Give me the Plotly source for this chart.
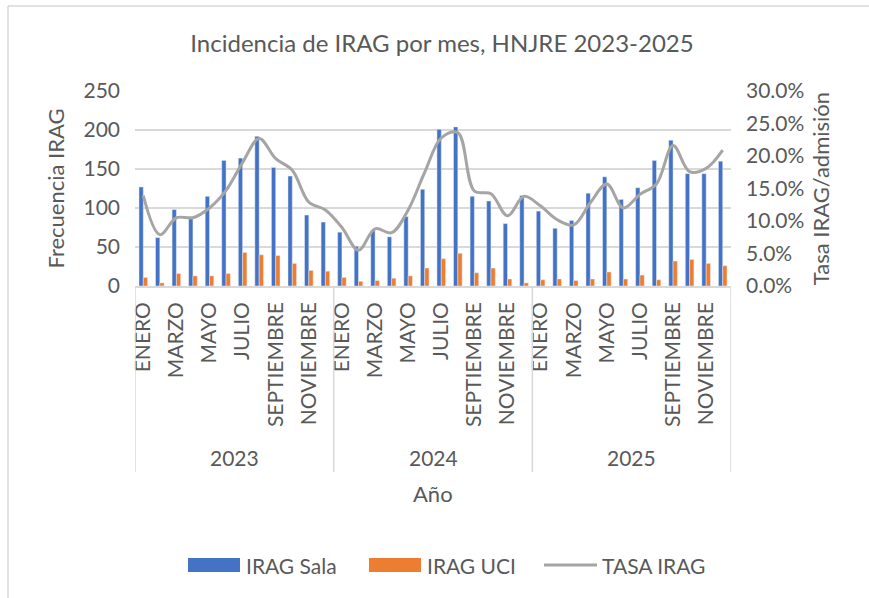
import plotly.graph_objects as go

# =============================================================================
# DATA
# =============================================================================

years = ["2023", "2024", "2025"]
months = ["ENERO", "FEBRERO", "MARZO", "ABRIL", "MAYO", "JUNIO",
          "JULIO", "AGOSTO", "SEPTIEMBRE", "OCTUBRE", "NOVIEMBRE", "DICIEMBRE"]

irag_sala = [127, 62, 98, 89, 115, 161, 164, 192, 152, 141, 91, 82,
             69, 51, 71, 63, 89, 124, 201, 204, 115, 109, 80, 116,
             96, 74, 84, 119, 140, 111, 126, 161, 187, 144, 144, 160]
irag_uci = [11, 4, 16, 13, 13, 16, 43, 40, 39, 29, 20, 19,
            11, 6, 7, 10, 13, 23, 35, 42, 17, 23, 9, 4,
            8, 9, 7, 9, 18, 9, 14, 8, 32, 34, 29, 26]
tasa_irag = [13.9, 7.9, 10.5, 10.5, 12.0, 14.7, 19.0, 22.7, 19.6, 17.8, 12.9, 11.7,
             9.0, 5.5, 8.8, 8.2, 11.7, 17.5, 22.8, 23.6, 14.6, 14.2, 10.8, 13.8,
             12.3, 10.2, 9.4, 12.8, 15.7, 12.0, 14.1, 15.7, 21.6, 17.6, 18.1, 20.9]

# =============================================================================
# FIGURE
# =============================================================================

W, H = 869, 598
L, R, T, B = 135, 731, 91, 286          # plot area in pixels
FONT = "Lato"
TXT = "#595959"
GRID = "#d9d9d9"
BLUE, ORANGE, GREY = "#4472c4", "#ed7d31", "#a5a5a5"


def px_x(x):
    return (x - L) / (R - L)


def px_y(y):
    return (B - y) / (B - T)


idx = list(range(len(irag_sala)))
n_m = len(months)

fig = go.Figure()
fig.add_trace(go.Bar(x=idx, y=irag_sala, name="IRAG Sala", marker_color=BLUE))
fig.add_trace(go.Bar(x=idx, y=irag_uci, name="IRAG UCI", marker_color=ORANGE))
fig.add_trace(go.Scatter(
    x=idx, y=tasa_irag, name="TASA IRAG", yaxis="y2", mode="lines",
    line=dict(color=GREY, width=3, shape="spline", smoothing=1.0)
))

# year groups and dividers below the month labels
shapes = []
annotations = []
for k, yr in enumerate(years):
    annotations.append(dict(
        x=k * n_m + (n_m - 1) / 2, y=px_y(457), xref="x", yref="paper",
        text=yr, showarrow=False, yanchor="middle",
        font=dict(family=FONT, size=21, color=TXT)
    ))
for k in range(len(years) + 1):
    shapes.append(dict(
        type="line", xref="x", yref="paper", x0=k * n_m - 0.5, x1=k * n_m - 0.5,
        y0=0, y1=px_y(472), line=dict(color=GRID, width=1.5)
    ))
annotations.append(dict(
    x=px_x(433), y=px_y(494), xref="paper", yref="paper", text="Año", showarrow=False,
    yanchor="middle", font=dict(family=FONT, size=22, color=TXT)
))

# legend drawn by hand, Excel style wide swatches
leg_y = 565
for name, color, x0, kind in [("IRAG Sala", BLUE, 188, "rect"),
                              ("IRAG UCI", ORANGE, 369, "rect"),
                              ("TASA IRAG", GREY, 544, "line")]:
    if kind == "rect":
        shapes.append(dict(type="rect", xref="paper", yref="paper",
                           x0=px_x(x0), x1=px_x(x0 + 52), y0=px_y(leg_y - 7), y1=px_y(leg_y + 7),
                           fillcolor=color, line=dict(width=0)))
    else:
        shapes.append(dict(type="line", xref="paper", yref="paper",
                           x0=px_x(x0), x1=px_x(x0 + 53), y0=px_y(leg_y), y1=px_y(leg_y),
                           line=dict(color=color, width=3)))
    annotations.append(dict(x=px_x(x0 + 56), y=px_y(leg_y), xref="paper", yref="paper",
                            text=name, showarrow=False, xanchor="left", yanchor="middle",
                            font=dict(family=FONT, size=21, color=TXT)))

# chart frame (left and top edges visible)
shapes.append(dict(type="line", xref="paper", yref="paper",
                   x0=px_x(8), x1=px_x(8), y0=px_y(6), y1=px_y(H + 5),
                   line=dict(color=GRID, width=1.5)))
shapes.append(dict(type="line", xref="paper", yref="paper",
                   x0=px_x(8), x1=px_x(W + 5), y0=px_y(6), y1=px_y(6),
                   line=dict(color=GRID, width=1.5)))

fig.update_layout(
    width=W, height=H,
    margin=dict(l=L, r=W - R, t=T, b=H - B),
    paper_bgcolor="white", plot_bgcolor="white",
    font=dict(family=FONT, color=TXT, size=20),
    showlegend=False,
    title=dict(text="Incidencia de IRAG por mes, HNJRE 2023-2025",
               x=px_x(442), xref="paper", xanchor="center", y=1 - 44 / H, yanchor="middle",
               font=dict(family=FONT, size=24, color=TXT)),
    barmode="group", bargap=0.48, bargroupgap=0,
    xaxis=dict(range=[-0.5, len(idx) - 0.5],
               tickvals=idx[::2], ticktext=[months[i % n_m] for i in idx[::2]],
               tickangle=-90, showgrid=False, zeroline=False,
               showline=True, linecolor=GRID, linewidth=1.5,
               tickfont=dict(family=FONT, size=21, color=TXT), ticklabelstandoff=6),
    yaxis=dict(range=[0, 250], dtick=50, showgrid=True, gridcolor=GRID, gridwidth=1.5,
               zeroline=False, tickfont=dict(family=FONT, size=21, color=TXT),
               ticklabelstandoff=14,
               title=dict(text="Frecuencia IRAG", standoff=12,
                          font=dict(family=FONT, size=22, color=TXT))),
    yaxis2=dict(overlaying="y", side="right", range=[0, 30], dtick=5,
                tickformat=".1f", ticksuffix="%", showgrid=False, zeroline=False,
                tickfont=dict(family=FONT, size=21, color=TXT), ticklabelstandoff=14,
                title=dict(text="Tasa IRAG/admisión", standoff=10,
                           font=dict(family=FONT, size=22, color=TXT))),
    shapes=shapes, annotations=annotations,
)

# page body has a default 8px margin; drop it so pixels line up with the reference
fig.write_html("out.html", config={"displayModeBar": False},
               post_script="document.body.style.margin='0';")
